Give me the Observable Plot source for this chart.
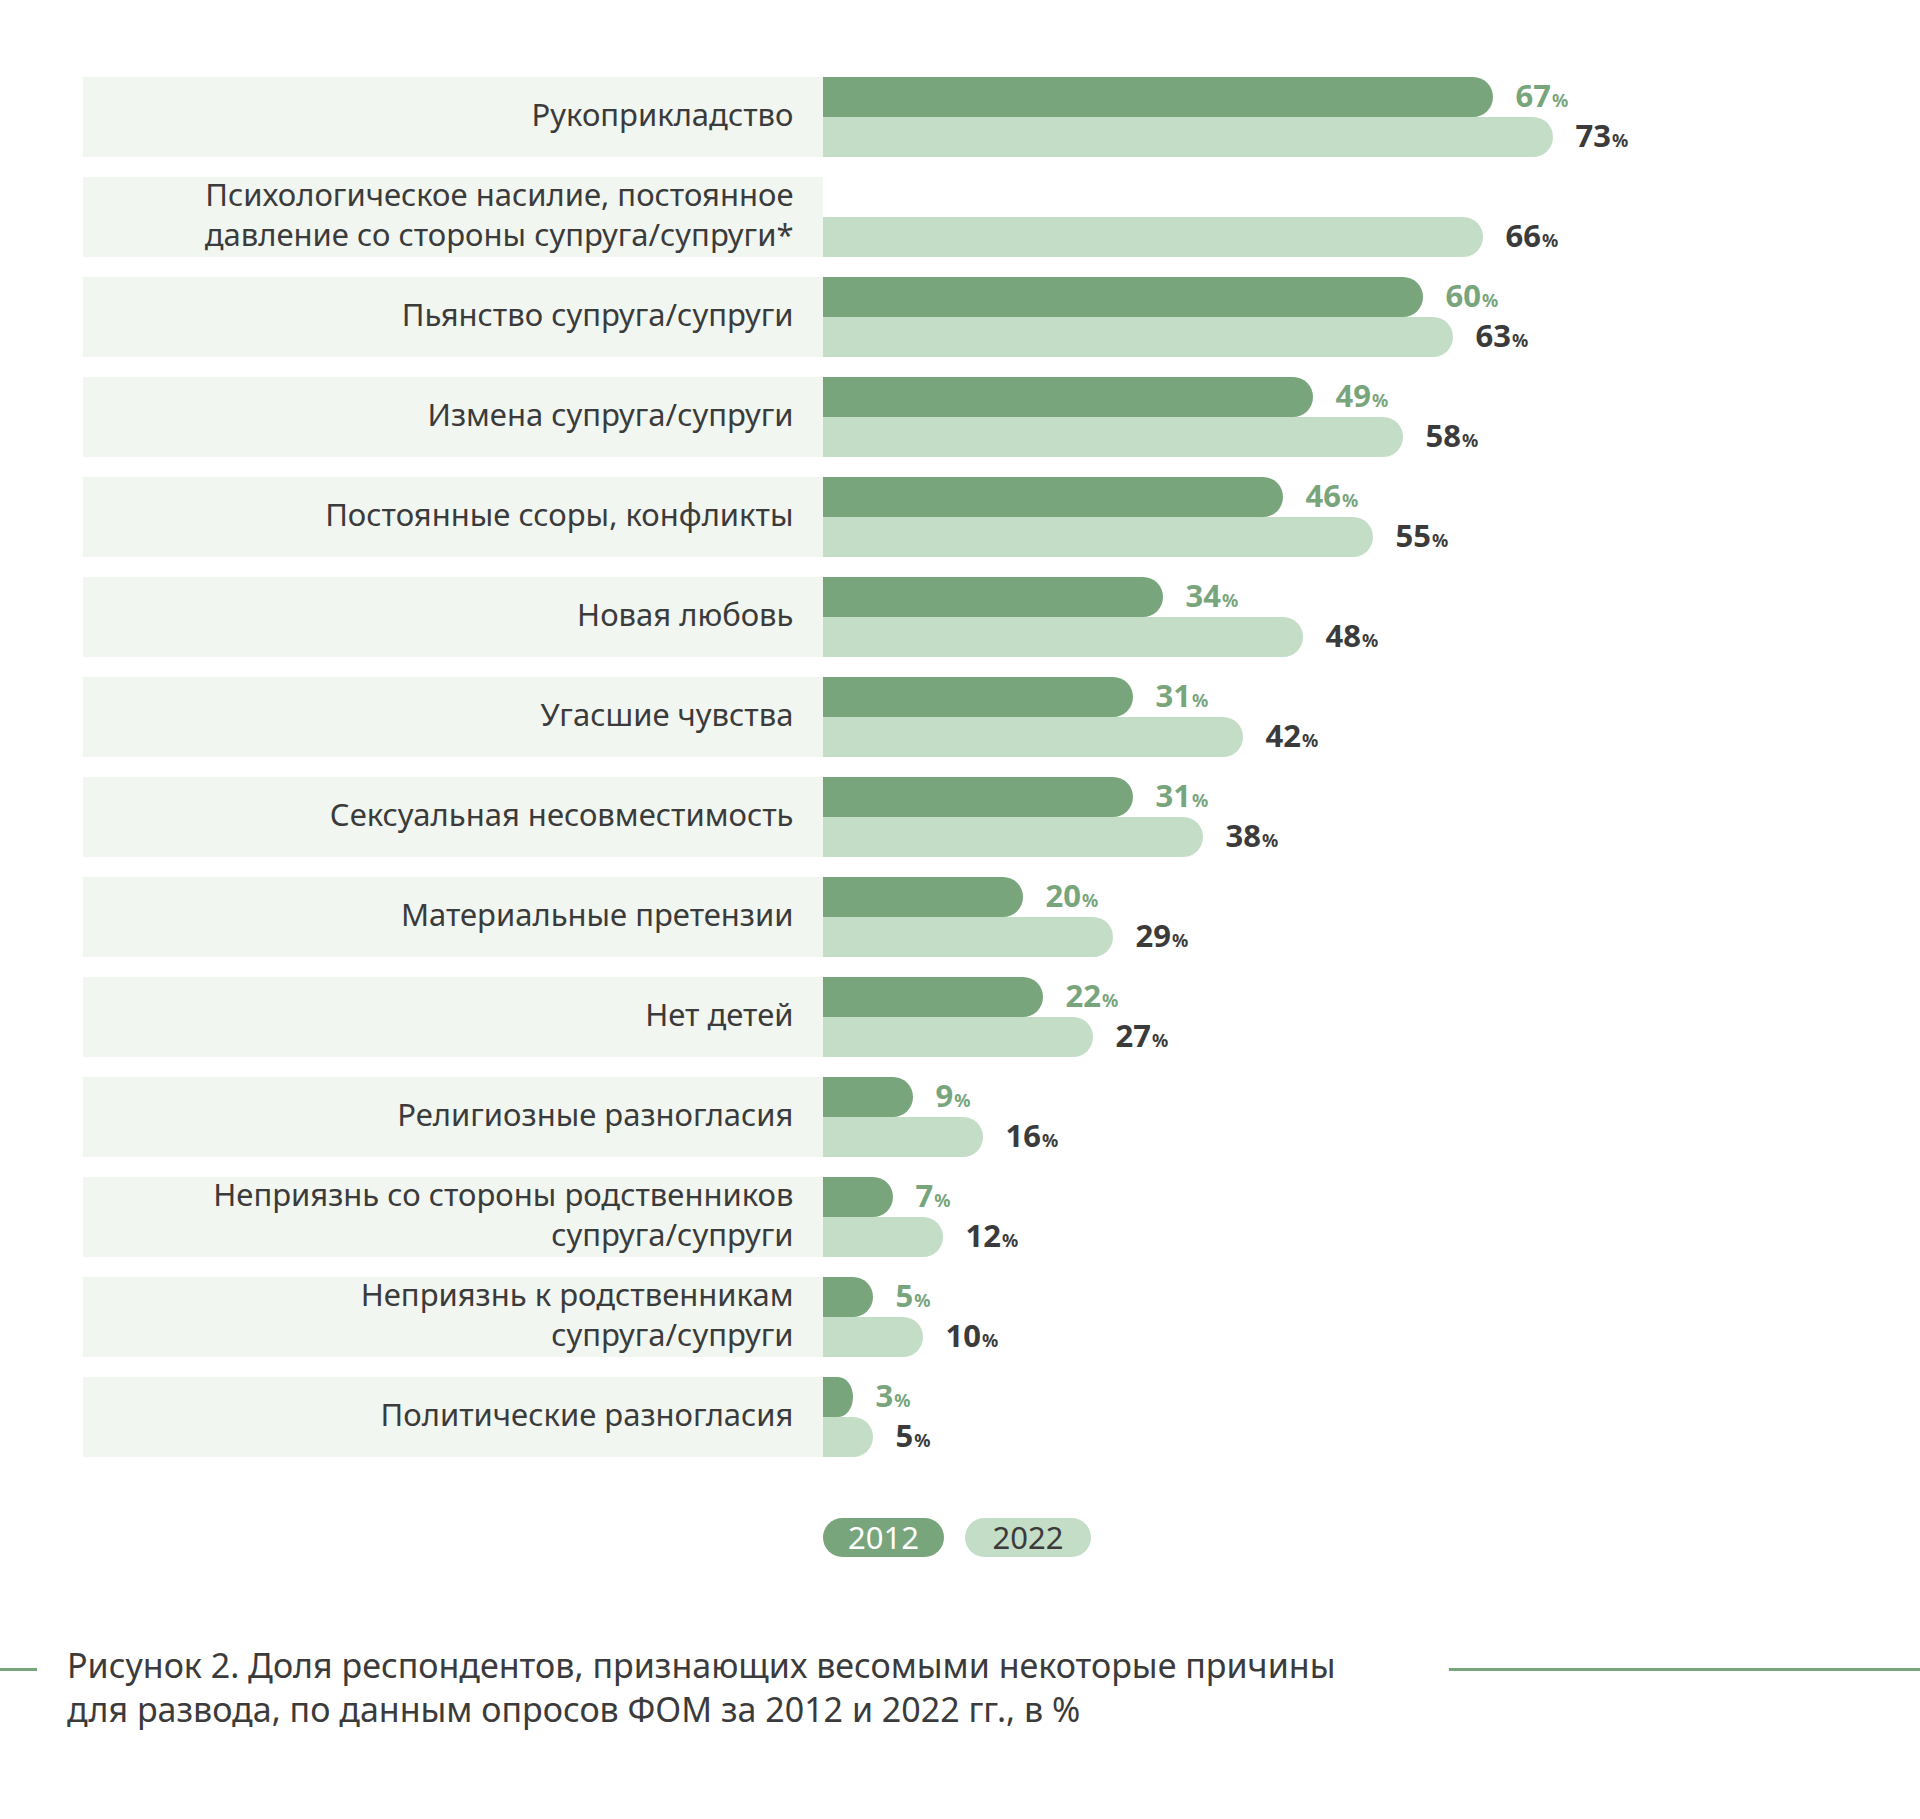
<!DOCTYPE html>
<html>
<head>
<meta charset="utf-8">
<script src="https://cdn.jsdelivr.net/npm/d3@7"></script>
<script src="https://cdn.jsdelivr.net/npm/@observablehq/plot@0.6"></script>
<style>
  html, body { margin: 0; padding: 0; background: #fff; }
  body { width: 1920px; height: 1819px; position: relative; font-family: "Noto Sans", sans-serif; }
  #chart { position: absolute; left: 0; top: 0; }
  .pill { position: absolute; top: 1518px; height: 39px; border-radius: 20px; font-size: 31px; line-height: 39px; text-align: center; }
  #caption { position: absolute; left: 67px; top: 1643px; font-size: 34px; line-height: 44px; color: #3b3b3b; white-space: nowrap; }
  .rule { position: absolute; top: 1668px; height: 3px; background: #78a57b; }
</style>
</head>
<body>
<div id="chart"></div>
<div class="pill" style="left:823px;width:121px;background:#78a57b;color:#fff">2012</div>
<div class="pill" style="left:965px;width:126px;background:#c4ddc6;color:#3b3b3b">2022</div>
<div class="rule" style="left:0;width:37px"></div>
<div class="rule" style="left:1449px;width:471px"></div>
<div id="caption">Рисунок 2. Доля респондентов, признающих весомыми некоторые причины<br>для развода, по данным опросов ФОМ за 2012 и 2022 гг., в %</div>
<script>
const categories = [
  "Рукоприкладство",
  "Психологическое насилие, постоянное\nдавление со стороны супруга/супруги*",
  "Пьянство супруга/супруги",
  "Измена супруга/супруги",
  "Постоянные ссоры, конфликты",
  "Новая любовь",
  "Угасшие чувства",
  "Сексуальная несовместимость",
  "Материальные претензии",
  "Нет детей",
  "Религиозные разногласия",
  "Неприязнь со стороны родственников\nсупруга/супруги",
  "Неприязнь к родственникам\nсупруга/супруги",
  "Политические разногласия"
];
const values2012 = [67, null, 60, 49, 46, 34, 31, 31, 20, 22, 9, 7, 5, 3];
const values2022 = [73, 66, 63, 58, 55, 48, 42, 38, 29, 27, 16, 12, 10, 5];

const dark = "#78a57b", light = "#c4ddc6", panel = "#f1f6f1", ink = "#3b3b3b";
const d12 = categories.map((c, i) => ({c, v: values2012[i]})).filter(d => d.v != null);
const d22 = categories.map((c, i) => ({c, v: values2022[i]}));
const rows = categories.map(c => ({c}));

const chart = Plot.plot({
  width: 1920,
  height: 1480,
  marginTop: 77,
  marginBottom: 23,
  marginLeft: 83,
  marginRight: 97,
  style: {fontFamily: "Noto Sans, sans-serif", background: "transparent"},
  x: {domain: [-74, 100], axis: null},
  y: {domain: categories, axis: null, paddingInner: 0.2, paddingOuter: 0, align: 0},
  marks: [
    Plot.barX(rows, {y: "c", x1: -74, x2: 0, fill: panel}),
    Plot.text(rows, {y: "c", x: 0, dx: -30, dy: -4, text: "c", textAnchor: "end", fontSize: 31, fill: ink, lineHeight: 1.27}),
    // 2012 bars (top half)
    Plot.barX(d12, {y: "c", x1: 0, x2: "v", fill: dark, insetBottom: 40, rx: 20}),
    Plot.barX(d12, {y: "c", x1: 0, x2: d => d.v / 2, fill: dark, insetBottom: 40}),
    // 2022 bars (bottom half)
    Plot.barX(d22, {y: "c", x1: 0, x2: "v", fill: light, insetTop: 40, rx: 20}),
    Plot.barX(d22, {y: "c", x1: 0, x2: d => d.v / 2, fill: light, insetTop: 40}),
    Plot.text(d12, {y: "c", x: "v", dx: 22, dy: -20, text: d => String(d.v), textAnchor: "start", fill: dark, fontSize: 31, fontWeight: 700}),
    Plot.text(d22, {y: "c", x: "v", dx: 22, dy: 20, text: d => String(d.v), textAnchor: "start", fill: ink, fontSize: 31, fontWeight: 700})
  ]
});

d3.select(chart).selectAll('g[font-weight="700"] text').each(function() {
  d3.select(this).append("tspan").attr("font-size", 18).attr("dx", 1).text("%");
});

document.getElementById("chart").appendChild(chart);
</script>
</body>
</html>
